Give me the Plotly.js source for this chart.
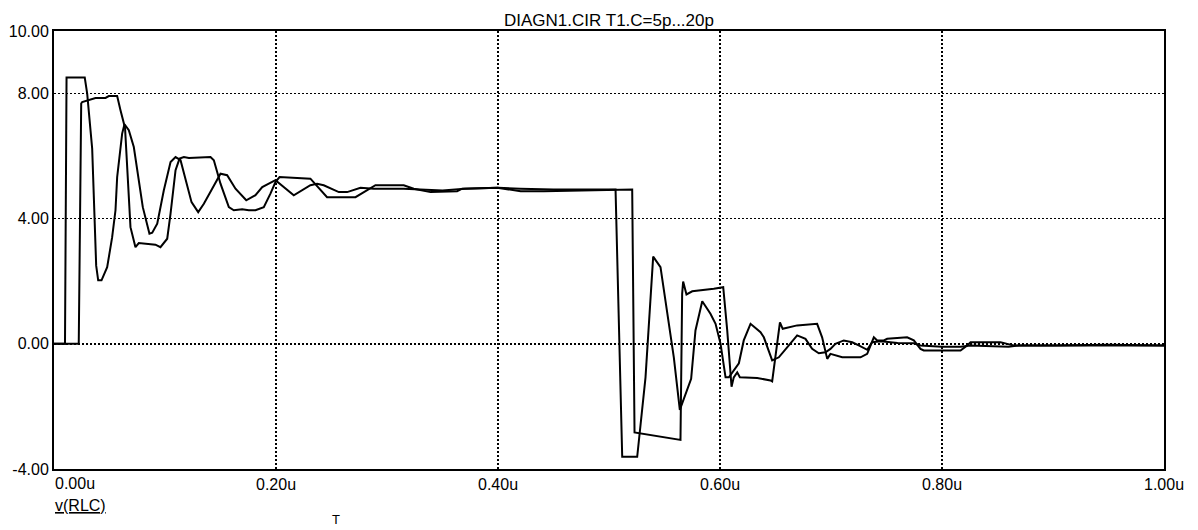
<!DOCTYPE html>
<html>
<head>
<meta charset="utf-8">
<script src="https://cdn.plot.ly/plotly-3.0.1.min.js"></script>
<style>
  html, body { margin: 0; padding: 0; background: #ffffff; }
  #chart { width: 1198px; height: 530px; }
</style>
</head>
<body>
<div id="chart"></div>
<script>
// Time (microseconds) and voltage for the two sweep runs
const timeA = [0, 0.0099, 0.0113, 0.0277, 0.0299, 0.0344, 0.038, 0.0398, 0.0428, 0.0479,
  0.0524, 0.0554, 0.0569, 0.0614, 0.0635, 0.0674, 0.0719, 0.0759, 0.080, 0.086,
  0.0885, 0.093, 0.0989, 0.105, 0.1095, 0.114, 0.1185, 0.1239, 0.1299, 0.135,
  0.1425, 0.150, 0.156, 0.1635, 0.1732, 0.1815, 0.1876, 0.1995, 0.216, 0.231,
  0.237, 0.243, 0.2566, 0.2641, 0.2761, 0.2881, 0.3151, 0.330, 0.339, 0.350,
  0.370, 0.400, 0.420, 0.450, 0.480, 0.5059, 0.5119, 0.5254, 0.5329, 0.5398,
  0.5464, 0.5524, 0.5584, 0.5638, 0.5704, 0.574, 0.5779, 0.584, 0.5914, 0.596,
  0.6005, 0.605, 0.608, 0.6124, 0.617, 0.6214, 0.6275, 0.6365, 0.6395, 0.647,
  0.653, 0.662, 0.6695, 0.677, 0.683, 0.689, 0.695, 0.6995, 0.704, 0.7115,
  0.7191, 0.725, 0.7326, 0.7371, 0.745, 0.760, 0.7746, 0.7806, 0.800, 0.8167,
  0.8257, 0.860, 0.870, 0.900, 0.950, 1.0];
const voltA = [0, 0, 8.51, 8.51, 8.0, 6.24, 2.5, 2.03, 2.03, 2.45,
  3.41, 4.27, 5.33, 6.72, 7.02, 6.83, 6.29, 5.33, 4.37, 3.52,
  3.55, 3.84, 4.9, 5.81, 5.97, 5.87, 5.23, 4.53, 4.21, 4.48,
  4.96, 5.44, 5.39, 4.96, 4.59, 4.75, 5.01, 5.23, 4.75, 5.07,
  5.12, 5.07, 4.85, 4.85, 4.99, 4.96, 4.96, 4.93, 4.9, 4.9,
  4.96, 4.99, 4.96, 4.93, 4.93, 4.93, -3.61, -3.61, -1.07, 2.79,
  2.45, 1.07, -0.43, -2.11, -1.49, -1.12, 0.43, 1.36, 0.96, 0.64,
  0.0, -1.07, -1.07, -0.85, -0.62, 0.11, 0.64, 0.37, 0.21, -0.53,
  -0.43, -0.05, 0.27, 0.16, -0.16, -0.3, -0.27, -0.16, 0.0, 0.11,
  0.05, -0.05, -0.19, 0.05, 0.08, 0.03, 0.02, -0.05, -0.09, -0.09,
  -0.05, -0.09, -0.05, -0.05, -0.03, -0.05];

const timeB = [0, 0.0223, 0.0245, 0.0254, 0.0374, 0.0464, 0.0494, 0.0569, 0.0599, 0.064,
  0.0689, 0.071, 0.0734, 0.0764, 0.0914, 0.0959, 0.102, 0.105, 0.1095, 0.1131,
  0.117, 0.1215, 0.1335, 0.141, 0.144, 0.150, 0.1575, 0.162, 0.1695, 0.1755,
  0.1815, 0.189, 0.195, 0.1995, 0.2032, 0.231, 0.246, 0.2716, 0.2896, 0.3151,
  0.3241, 0.3392, 0.3632, 0.3677, 0.3993, 0.4204, 0.4413, 0.4743, 0.5209, 0.523,
  0.5314, 0.5494, 0.5644, 0.5659, 0.5668, 0.5698, 0.575, 0.5944, 0.6029, 0.6065,
  0.6095, 0.6104, 0.6124, 0.6155, 0.6179, 0.6335, 0.6455, 0.647, 0.654, 0.6565,
  0.6695, 0.6875, 0.692, 0.6966, 0.6995, 0.7101, 0.7266, 0.7326, 0.7386, 0.7416,
  0.7476, 0.7506, 0.7686, 0.7746, 0.7806, 0.7836, 0.7986, 0.8167, 0.8227, 0.8257,
  0.8362, 0.8527, 0.8588, 0.8647, 0.9128, 0.9428, 1.0];
const voltB = [0, 0, 7.68, 7.73, 7.86, 7.86, 7.92, 7.92, 7.47, 6.9,
  3.73, 3.41, 3.09, 3.22, 3.17, 3.09, 3.36, 4.16, 5.55, 5.92,
  5.97, 5.94, 5.97, 5.97, 5.87, 5.12, 4.37, 4.27, 4.3, 4.27,
  4.27, 4.37, 4.8, 5.17, 5.33, 5.28, 4.69, 4.69, 5.07, 5.07,
  4.96, 4.85, 4.88, 4.96, 4.99, 4.88, 4.88, 4.9, 4.93, -2.83,
  -2.88, -2.99, -3.07, 1.6, 1.99, 1.58, 1.68, 1.76, 1.81, 0.43,
  -1.07, -1.37, -1.07, -0.91, -1.07, -1.09, -1.17, -1.2, 0.69, 0.48,
  0.59, 0.64, 0.21, -0.48, -0.32, -0.43, -0.43, -0.32, 0.21, 0.11,
  0.11, 0.16, 0.21, 0.11, -0.16, -0.21, -0.21, -0.21, -0.05, 0.05,
  0.05, 0.05, 0.0, -0.05, -0.05, -0.05, -0.05];

const xTickVals = [0, 0.2, 0.4, 0.6, 0.8, 1.0];
const xTickText = ['', '0.20u', '0.40u', '0.60u', '0.80u', '1.00u'];
const firstXTick = '0.00u';
const yTickVals = [-4, 0, 4, 8, 10];
const yTickText = ['-4.00', '0.00', '4.00', '8.00', '10.00'];
const chartTitle = 'DIAGN1.CIR T1.C=5p...20p';
const traceLabel = 'v(RLC)';
const xLabel = 'T';

const FONT = 'Liberation Sans, Arial, Helvetica, sans-serif';

const traces = [
  { x: timeA, y: voltA, type: 'scatter', mode: 'lines',
    line: { color: '#000000', width: 2 }, hoverinfo: 'skip', showlegend: false },
  { x: timeB, y: voltB, type: 'scatter', mode: 'lines',
    line: { color: '#000000', width: 2 }, hoverinfo: 'skip', showlegend: false }
];

const layout = {
  width: 1198, height: 530,
  paper_bgcolor: '#ffffff', plot_bgcolor: '#ffffff',
  margin: { l: 54, r: 34, t: 31, b: 61, pad: 0 },
  showlegend: false,
  font: { family: FONT, color: '#000000', size: 16 },
  title: { text: chartTitle, font: { family: FONT, size: 17, color: '#000000' },
           xref: 'paper', x: 0.5, xanchor: 'center', yref: 'container', y: 0.962, yanchor: 'middle' },
  xaxis: {
    range: [0, 1.0], tickvals: xTickVals, ticktext: xTickText, ticks: '',
    showline: true, mirror: true, linecolor: '#000000', linewidth: 2,
    showgrid: true, gridcolor: '#000000', gridwidth: 1.5, griddash: '2px,2px',
    zeroline: false, tickfont: { family: FONT, size: 16, color: '#000000' }
  },
  yaxis: {
    range: [-4, 10], tickvals: yTickVals, ticktext: yTickText, ticks: '',
    showline: true, mirror: true, linecolor: '#000000', linewidth: 2,
    showgrid: true, gridcolor: '#000000', gridwidth: 1.5, griddash: '2px,2px',
    zeroline: false, tickfont: { family: FONT, size: 16, color: '#000000' }
  },
  annotations: [
    { text: firstXTick, xref: 'x', x: 0, xanchor: 'left', align: 'left', yref: 'paper', y: -0.032, yanchor: 'middle',
      showarrow: false, borderpad: 0, font: { family: FONT, size: 16, color: '#000000' } },
    { text: '<u>' + traceLabel + '</u>', xref: 'paper', x: 0, xanchor: 'left', align: 'left', yref: 'paper', y: -0.0834, yanchor: 'middle',
      showarrow: false, borderpad: 0, font: { family: FONT, size: 16, color: '#000000' } },
    { text: xLabel, xref: 'paper', x: 0.254, xanchor: 'center', yref: 'paper', y: -0.1154, yanchor: 'middle',
      showarrow: false, font: { family: FONT, size: 13, color: '#000000' } }
  ]
};

Plotly.newPlot('chart', traces, layout, { staticPlot: true, displayModeBar: false });
</script>
</body>
</html>
